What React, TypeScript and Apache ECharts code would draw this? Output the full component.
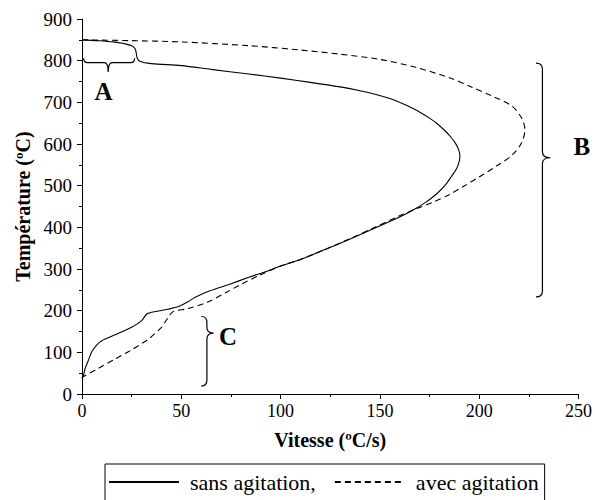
import React, { useEffect, useRef } from "react";
import * as echarts from "echarts";

// Vitesse (ºC/s), Température (ºC)
const sansAgitation: number[][] = [
  [0, 850], [8, 848], [16, 845], [21, 841], [25, 836], [26.8, 828], [27.4, 816],
  [27.8, 806], [29.3, 798], [35, 793], [50, 788], [65, 779], [84, 768], [100, 758],
  [115, 748], [130, 737], [140, 728], [148, 719], [155, 709], [161, 698], [166, 687],
  [171, 674], [175, 662], [179, 648], [182.5, 633], [185.5, 618], [188, 602],
  [189.6, 587], [190.3, 571], [189.8, 556], [188.5, 540], [186, 522], [183, 502],
  [178.5, 480], [173, 460], [166.5, 441], [159.6, 424], [147, 397], [134.5, 371],
  [122, 346], [110, 323], [100, 307], [92, 293], [84, 280], [74, 263],
  [64, 247], [57, 232], [53.5, 222], [48.5, 210], [41.8, 202], [35, 196], [32.6, 192],
  [30, 176], [25, 160], [16.7, 142], [10, 128], [7.5, 118], [5, 102], [3.3, 82],
  [1.5, 60], [0.8, 46], [0, 38],
];

const avecAgitation: number[][] = [
  [0, 850], [25, 848], [50, 845], [84, 836], [109, 826], [129, 816], [150, 803],
  [168, 784], [185, 759], [196, 737], [207, 714], [216.5, 691], [221.5, 661],
  [223, 635], [221.5, 604], [216.5, 573], [208, 545], [200, 521], [192, 498],
  [185, 479], [177, 461], [168, 444], [159.6, 427], [147, 399], [134.5, 372],
  [122, 346], [110, 323], [100, 307], [89, 284], [80, 263], [73, 245], [63, 220],
  [53.5, 205], [46, 198], [44.3, 190], [42, 174], [40, 160], [33.5, 132], [25, 106],
  [16.7, 84], [8, 61], [0.8, 42], [0, 38],
];

const seriesNames = ["sans agitation,", "avec agitation"];

// braces: [end1 x, end1 y, end2 x, end2 y, tip x, tip y] in data units
const braces: number[][] = [
  [0.8, 806, 26.5, 806, 13.2, 773],
  [228.6, 794, 228.6, 233, 235.8, 567],
  [60.1, 186, 60.1, 19, 66.3, 146],
];
const braceLabels = ["A", "B", "C"];
// label centres [x, y] in data units
const braceLabelPos: number[][] = [
  [10.8, 725],
  [251.7, 593],
  [73.5, 138],
];

const FONT = "Liberation Serif";

function bracePath(p1: number[], p2: number[], tip: number[], frac: number): string {
  const r = 6;
  if (Math.abs(p1[0] - p2[0]) < Math.abs(p1[1] - p2[1])) {
    const x0 = p1[0];
    const xt = tip[0];
    const xs = x0 + (xt - x0) * frac;
    const yTop = Math.min(p1[1], p2[1]);
    const yBot = Math.max(p1[1], p2[1]);
    const yT = tip[1];
    return `M ${x0} ${yTop} Q ${xs} ${yTop} ${xs} ${yTop + r} L ${xs} ${yT - r} Q ${xs} ${yT} ${xt} ${yT} Q ${xs} ${yT} ${xs} ${yT + r} L ${xs} ${yBot - r} Q ${xs} ${yBot} ${x0} ${yBot}`;
  } else {
    const y0 = p1[1];
    const yt = tip[1];
    const ys = y0 + (yt - y0) * frac;
    const xL = Math.min(p1[0], p2[0]);
    const xR = Math.max(p1[0], p2[0]);
    const xT = tip[0];
    const rr = 4;
    return `M ${xL} ${y0} Q ${xL} ${ys} ${xL + rr} ${ys} L ${xT - rr} ${ys} Q ${xT} ${ys} ${xT} ${yt} Q ${xT} ${ys} ${xT + rr} ${ys} L ${xR - rr} ${ys} Q ${xR} ${ys} ${xR} ${y0}`;
  }
}

export default function App() {
  const ref = useRef<HTMLDivElement>(null);
  useEffect(() => {
    if (!ref.current) return;
    const chart = echarts.init(ref.current, null, { renderer: "svg" });
    const braceData = braces.map((b, i) => [...b, ...braceLabelPos[i], i]);
    chart.setOption({
      animation: false,
      backgroundColor: "#fff",
      grid: { left: 82, right: 15, top: 19, bottom: 106, containLabel: false },
      legend: {
        data: seriesNames,
        left: 105,
        top: 464,
        orient: "horizontal",
        itemWidth: 70,
        itemHeight: 14,
        itemGap: 18,
        padding: [7, 6, 10, 3],
        borderColor: "#000",
        borderWidth: 1,
        borderRadius: 0,
        itemStyle: { opacity: 0, color: "rgba(0,0,0,0)", borderWidth: 0 },
        textStyle: { fontFamily: FONT, fontSize: 22, color: "#000", padding: [0, 0, 0, 6] },
      },
      xAxis: {
        type: "value",
        min: 0,
        max: 250,
        interval: 50,
        name: "Vitesse (ºC/s)",
        nameLocation: "middle",
        nameGap: 36,
        nameTextStyle: { fontFamily: FONT, fontSize: 20, fontWeight: "bold", color: "#000" },
        axisLine: { show: true, lineStyle: { color: "#000", width: 1 } },
        axisTick: { show: true, length: 5, lineStyle: { color: "#000" } },
        minorTick: { show: true, splitNumber: 2, length: 3, lineStyle: { color: "#000" } },
        splitLine: { show: false },
        axisLabel: { fontFamily: FONT, fontSize: 18, color: "#000", margin: 8 },
      },
      yAxis: {
        type: "value",
        min: 0,
        max: 900,
        interval: 100,
        name: "Température (ºC)",
        nameLocation: "middle",
        nameGap: 48,
        nameTextStyle: { fontFamily: FONT, fontSize: 20, fontWeight: "bold", color: "#000" },
        axisLine: { show: true, lineStyle: { color: "#000", width: 1 } },
        axisTick: { show: true, length: 5, lineStyle: { color: "#000" } },
        minorTick: { show: true, splitNumber: 2, length: 3, lineStyle: { color: "#000" } },
        splitLine: { show: false },
        axisLabel: { fontFamily: FONT, fontSize: 19, color: "#000", margin: 10 },
      },
      series: [
        {
          name: seriesNames[0],
          type: "line",
          data: sansAgitation,
          symbol: "none",
          smooth: 0.3,
          lineStyle: { color: "#000", width: 1.1, type: "solid" },
          itemStyle: { color: "#000" },
        },
        {
          name: seriesNames[1],
          type: "line",
          data: avecAgitation,
          symbol: "none",
          smooth: 0.3,
          lineStyle: { color: "#000", width: 1.1, type: [6, 4] },
          itemStyle: { color: "#000" },
        },
        {
          name: "annotations",
          type: "custom",
          clip: false,
          silent: true,
          data: braceData,
          encode: { x: [0, 2, 4, 6], y: [1, 3, 5, 7] },
          renderItem: (params: any, api: any) => {
            const p1 = api.coord([api.value(0), api.value(1)]);
            const p2 = api.coord([api.value(2), api.value(3)]);
            const tip = api.coord([api.value(4), api.value(5)]);
            const lp = api.coord([api.value(6), api.value(7)]);
            const idx = api.value(8);
            const frac = idx === 0 ? 0.32 : 0.45;
            return {
              type: "group",
              children: [
                {
                  type: "path",
                  shape: { pathData: bracePath(p1, p2, tip, frac) },
                  style: { stroke: "#000", fill: "none", lineWidth: 1.2 },
                },
                {
                  type: "text",
                  x: lp[0],
                  y: lp[1],
                  style: {
                    text: braceLabels[idx],
                    fontFamily: FONT,
                    fontSize: 25,
                    fontWeight: "bold",
                    fill: "#000",
                    align: "center",
                    verticalAlign: "middle",
                  },
                },
              ],
            };
          },
        },
      ],
    });
    return () => chart.dispose();
  }, []);
  return (
    <div
      ref={ref}
      style={{ position: "absolute", left: 0, top: 0, width: 595, height: 500, overflow: "hidden" }}
    />
  );
}
